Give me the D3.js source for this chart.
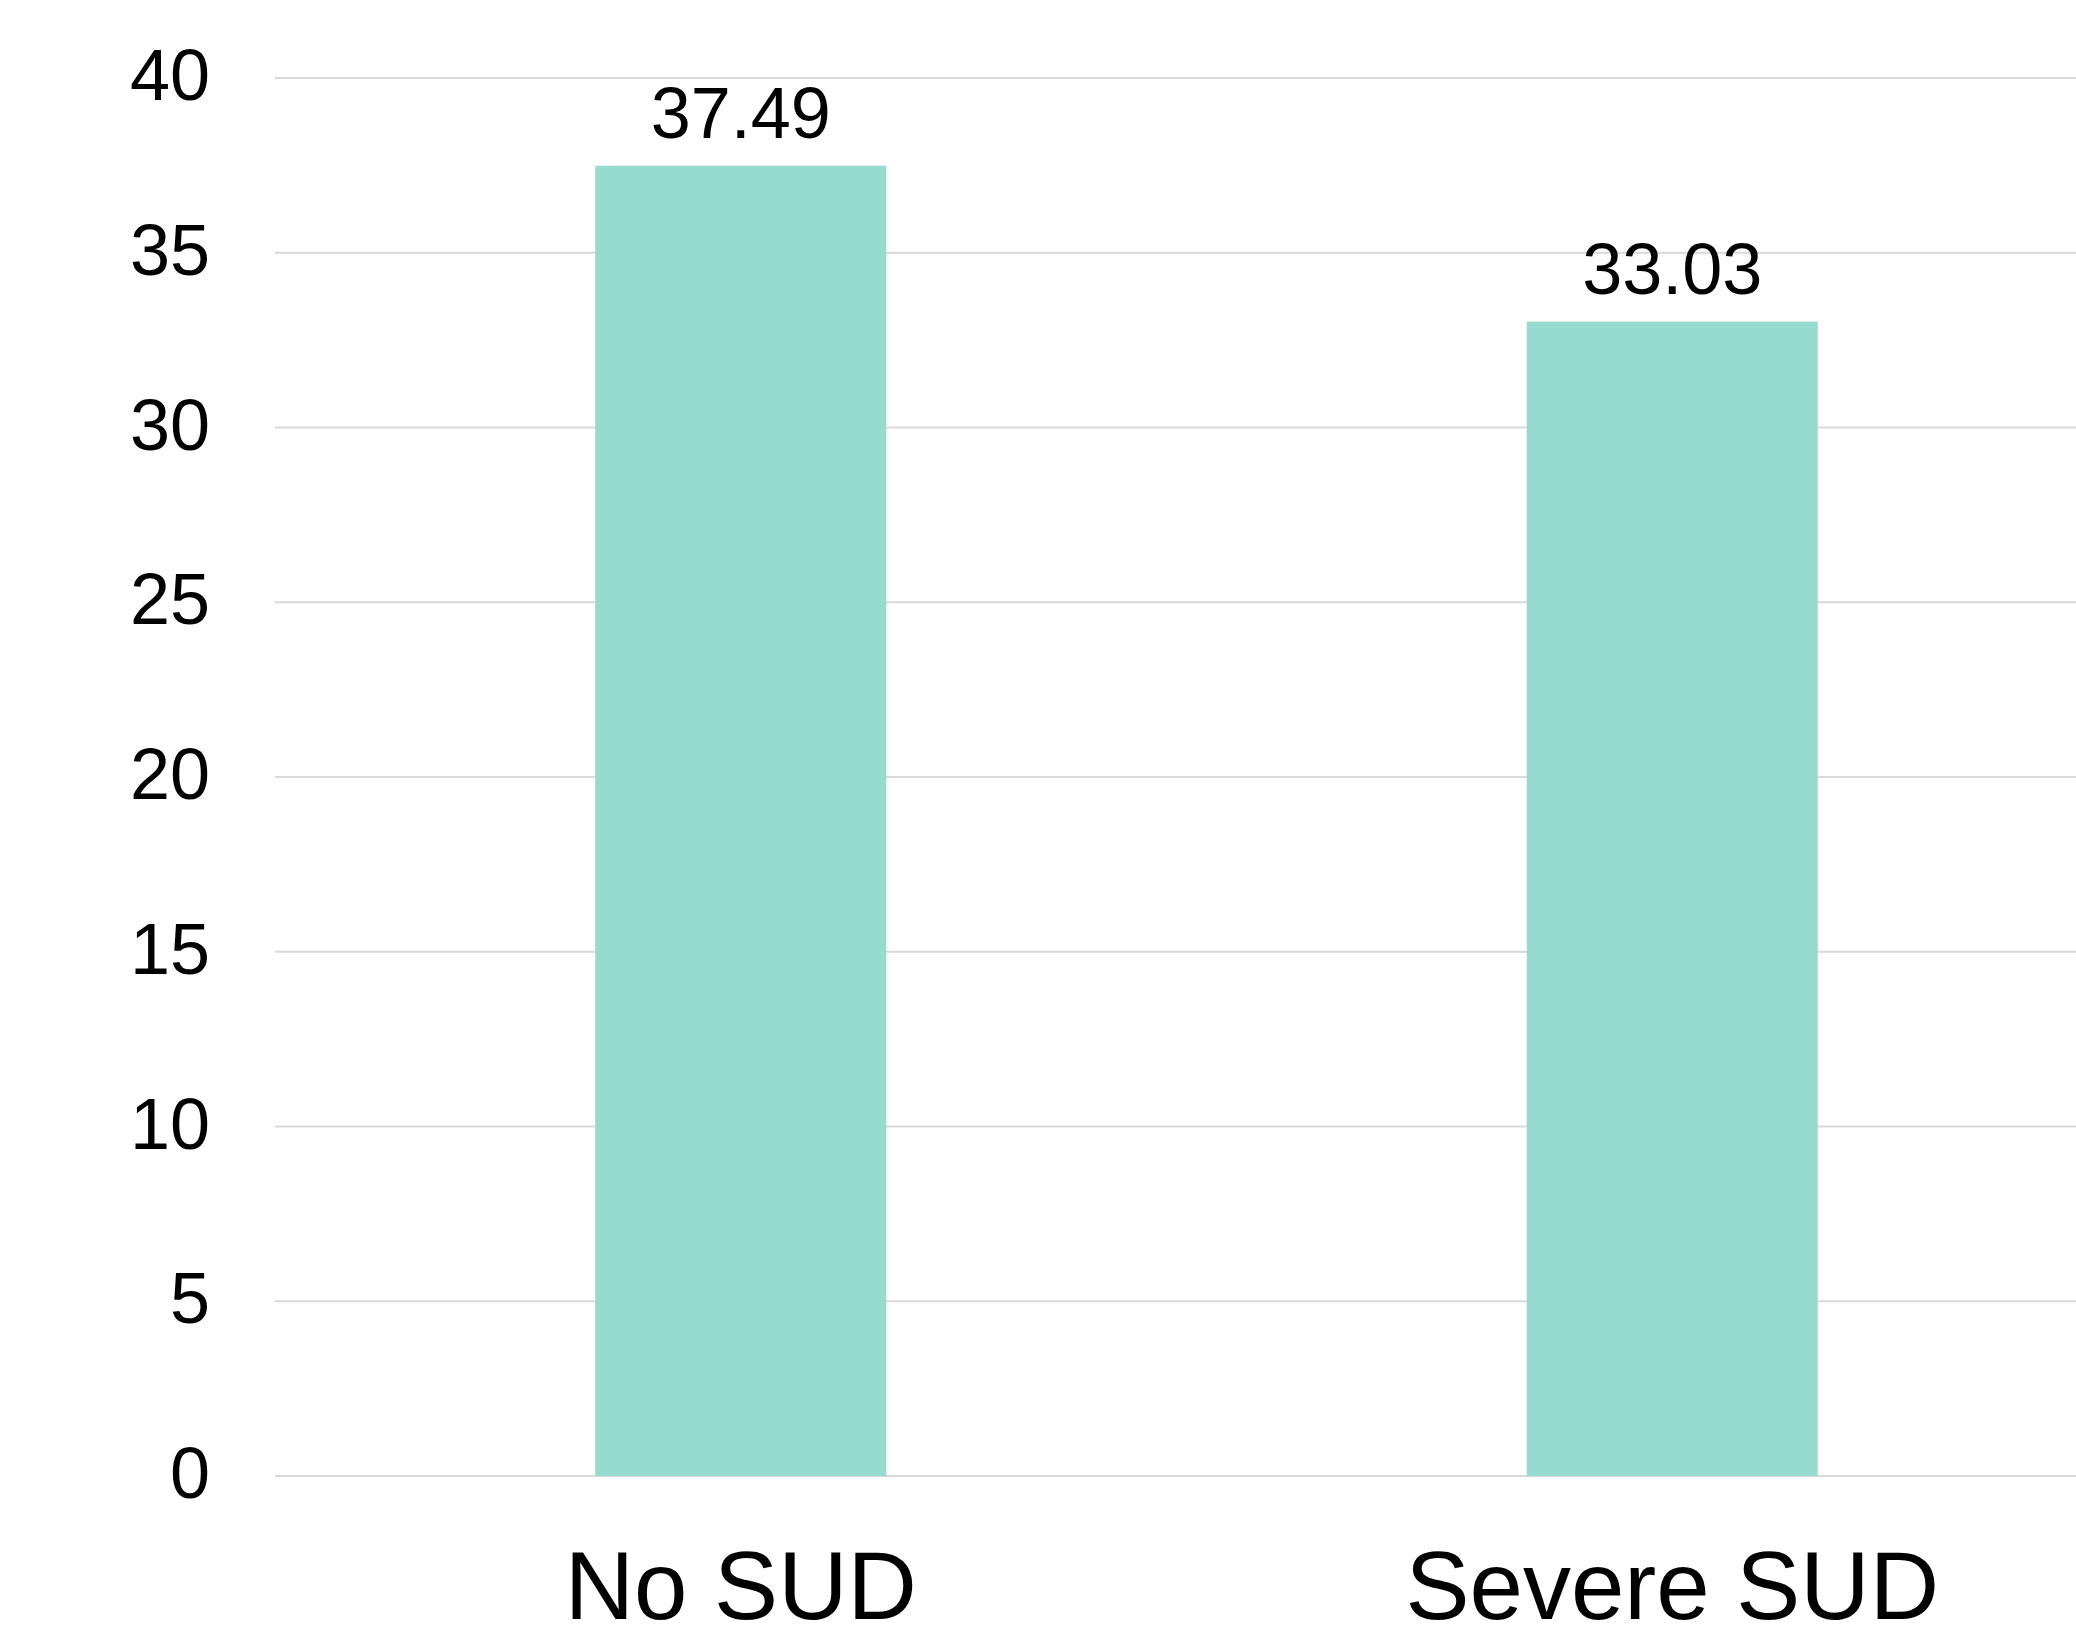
<!DOCTYPE html>
<html><head><meta charset="utf-8">
<script src="https://cdn.jsdelivr.net/npm/d3@7"></script>
<style>html,body{margin:0;padding:0;background:#fff;}svg{display:block;}</style>
</head><body>
<script>
const categories = ["No SUD", "Severe SUD"];
const values = [37.49, 33.03];
const valueLabels = ["37.49", "33.03"];
const yTicks = [0, 5, 10, 15, 20, 25, 30, 35, 40];

const W = 2076, H = 1626;
const svg = d3.select("body").append("svg").attr("width", W).attr("height", H);
const font = "'Liberation Sans', Arial, sans-serif";

const x = d3.scaleBand().domain(categories).range([275, 2138]).paddingInner(0.6875).paddingOuter(0.34375);
const y = d3.scaleLinear().domain([0, 40]).range([1476, 78]);

// gridlines
svg.append("g").selectAll("line").data(yTicks).join("line")
  .attr("x1", 275).attr("x2", W)
  .attr("y1", d => y(d)).attr("y2", d => y(d))
  .attr("stroke", "#d9d9d9").attr("stroke-width", 2);

// y tick labels
svg.append("g").selectAll("text").data(yTicks).join("text")
  .attr("x", 210).attr("y", d => y(d) + 22)
  .attr("text-anchor", "end")
  .attr("font-family", font).attr("font-size", 72).attr("fill", "#000")
  .text(d => d);

// bars
svg.append("g").selectAll("rect").data(categories).join("rect")
  .attr("x", d => x(d)).attr("width", x.bandwidth())
  .attr("y", (d, i) => y(values[i])).attr("height", (d, i) => y(0) - y(values[i]))
  .attr("fill", "#97dbd0");

// value labels
svg.append("g").selectAll("text").data(categories).join("text")
  .attr("x", d => x(d) + x.bandwidth() / 2)
  .attr("y", (d, i) => y(values[i]) - 28)
  .attr("text-anchor", "middle")
  .attr("font-family", font).attr("font-size", 72).attr("fill", "#000")
  .text((d, i) => valueLabels[i]);

// category labels
svg.append("g").selectAll("text").data(categories).join("text")
  .attr("x", d => x(d) + x.bandwidth() / 2)
  .attr("y", 1619)
  .attr("text-anchor", "middle")
  .attr("font-family", font).attr("font-size", 96).attr("fill", "#000")
  .text(d => d);
</script>
</body></html>
